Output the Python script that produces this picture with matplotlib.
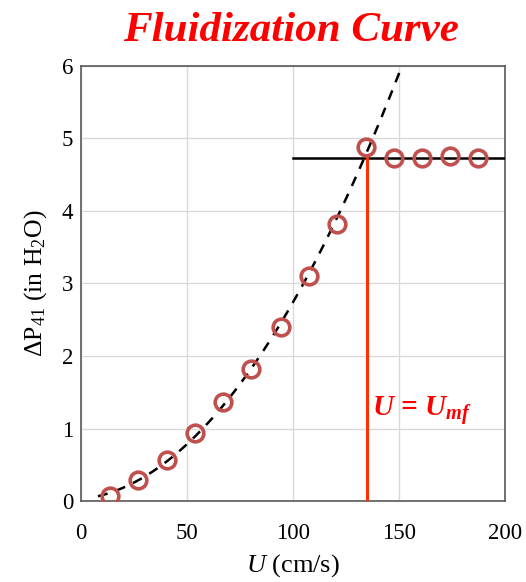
import numpy as np
import matplotlib
matplotlib.use("Agg")
import matplotlib.pyplot as plt

plt.rcParams['font.family'] = ['Liberation Serif', 'DejaVu Serif']
plt.rcParams['mathtext.fontset'] = 'custom'
plt.rcParams['mathtext.rm'] = 'Liberation Serif'
plt.rcParams['mathtext.it'] = 'Liberation Serif:italic'
plt.rcParams['mathtext.bf'] = 'Liberation Serif:bold'
plt.rcParams['mathtext.bfit'] = 'Liberation Serif:italic:bold'

# data
U = [13.7, 26.9, 40.6, 53.8, 67.0, 80.2, 94.3, 107.5, 120.8, 134.4,
     147.6, 160.8, 174.0, 187.3]
dP = [0.07, 0.29, 0.57, 0.94, 1.37, 1.82, 2.40, 3.10, 3.82, 4.88,
      4.73, 4.73, 4.76, 4.73]
U_mf = 135
dP_plateau = 4.73
x_ticks = [0, 50, 100, 150, 200]
y_ticks = [0, 1, 2, 3, 4, 5, 6]

fig = plt.figure(figsize=(5.26, 5.82), dpi=100)
ax = fig.add_axes([0.154, 0.139, 0.806, 0.748])

# quadratic trend of fixed-bed points
coef = np.polyfit(U[:10], dP[:10], 2)
xs = np.linspace(8, 151, 200)
ax.plot(xs, np.polyval(coef, xs), color='black', ls=(0, (4, 3.5)), lw=1.8, zorder=3)

ax.plot([100, 200], [dP_plateau, dP_plateau], color='black', lw=1.8, zorder=3)
ax.plot([U_mf, U_mf], [0, dP_plateau], color='#ff3000', lw=2.2, zorder=3)

ax.plot(U, dP, 'o', ms=12, mfc='none', mec='#c0504d', mew=2.6, zorder=4)

ax.text(137.5, 1.25, r'$\mathbfit{U}$ = $\mathbfit{U_{mf}}$', color='#ff0000', fontsize=21,
        fontweight='bold', fontstyle='italic', ha='left', va='center')

ax.set_xlim(0, 200)
ax.set_ylim(0, 6)
ax.set_xticks(x_ticks)
ax.set_yticks(y_ticks)
ax.grid(True, color='#d9d9d9', lw=1)
ax.set_axisbelow(True)
ax.tick_params(length=0, labelsize=16.5)
ax.tick_params(axis='x', pad=15.5)
ax.tick_params(axis='y', pad=5.5)
for s in ax.spines.values():
    s.set_color('#595959')
    s.set_linewidth(1.2)

ax.set_xlabel(r'$U$ (cm/s)', fontsize=19, labelpad=6)
ax.set_ylabel(r'$\Delta$P$_{41}$ (in H$_2$O)', fontsize=18.5, labelpad=9)

fig.text(0.553, 0.946, 'Fluidization Curve', color='#ff0000', fontsize=31,
         fontweight='bold', fontstyle='italic', ha='center', va='center')

fig.savefig('out.png', dpi=100)
